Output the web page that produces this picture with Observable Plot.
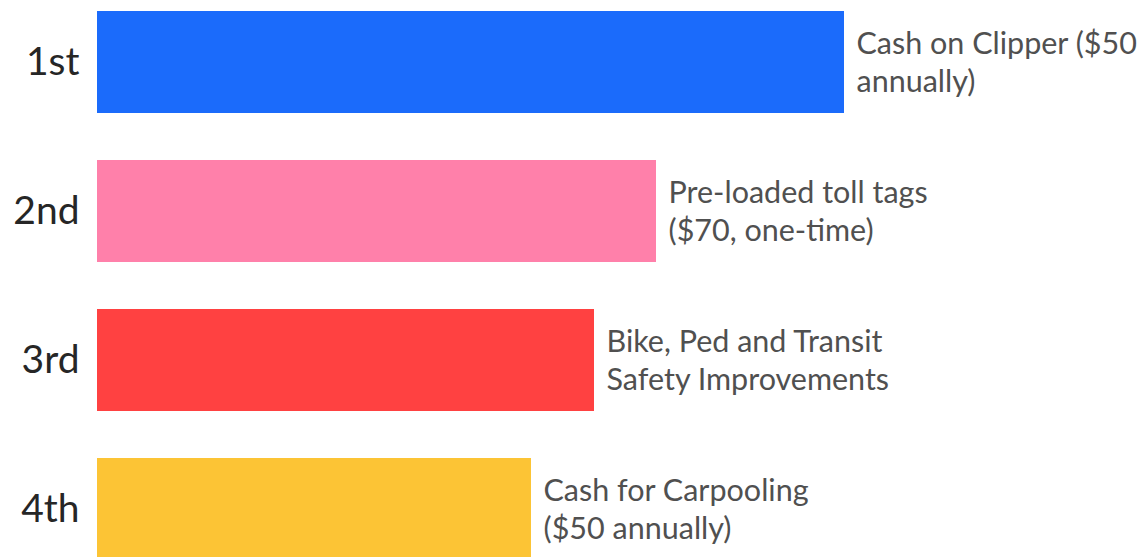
<!DOCTYPE html>
<html>
<head>
<meta charset="utf-8">
<script src="https://cdn.jsdelivr.net/npm/d3@7"></script>
<script src="https://cdn.jsdelivr.net/npm/@observablehq/plot@0.6"></script>
<style>
  html, body { margin: 0; padding: 0; background: #fff; overflow: hidden; }
  #chart svg { overflow: hidden; }
</style>
</head>
<body>
<div id="chart"></div>
<script>
const ranks = ["1st", "2nd", "3rd", "4th"];
const values = [747, 559, 497, 434];
const labels = [
  "Cash on Clipper ($50\nannually)",
  "Pre-loaded toll tags\n($70, one-time)",
  "Bike, Ped and Transit\nSafety Improvements",
  "Cash for Carpooling\n($50 annually)"
];
const colors = ["#1b6bfb", "#ff80aa", "#ff4141", "#fcc435"];

const data = ranks.map((r, i) => ({rank: r, value: values[i], label: labels[i], color: colors[i]}));

const chart = Plot.plot({
  width: 1147,
  height: 557,
  marginLeft: 97,
  marginRight: 0,
  marginTop: 0,
  marginBottom: 0,
  style: {fontFamily: "Lato, sans-serif", background: "#fff"},
  x: {domain: [0, 1050], range: [97, 1147], axis: null},
  y: {domain: ranks, range: [-36, 607], padding: 0.315, label: null},
  marks: [
    Plot.barX(data, {y: "rank", x: "value", fill: "color"}),
    Plot.text(data, {
      y: "rank", x: "value", text: "label",
      textAnchor: "start", dx: 12, dy: -2, fontSize: 30.5, fill: "#505050",
      lineHeight: 1.26, fontFamily: "Lato, sans-serif"
    }),
    Plot.axisY({tickSize: 0, tickPadding: 18, fontSize: 39, fill: "#262626", label: null, fontFamily: "Lato, sans-serif"})
  ]
});
document.getElementById("chart").append(chart);
</script>
</body>
</html>
